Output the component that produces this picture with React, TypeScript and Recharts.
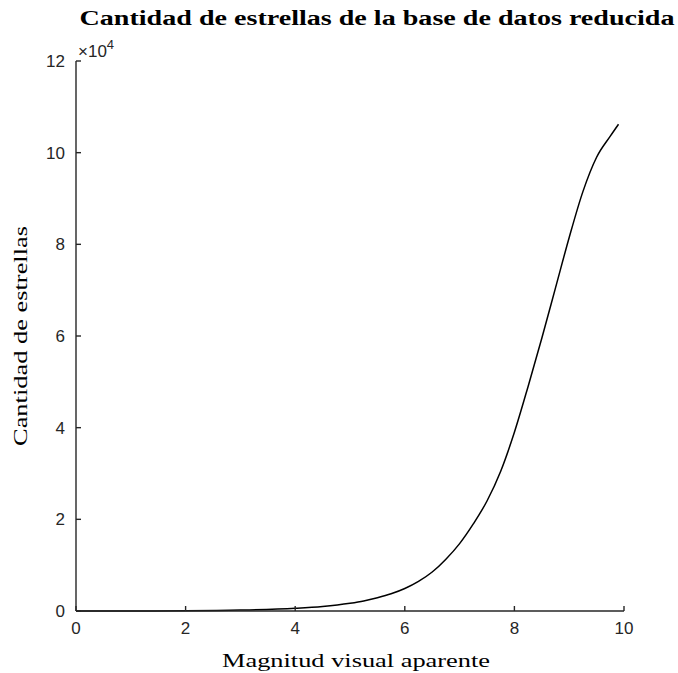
import { LineChart, Line, XAxis, YAxis } from 'recharts'

// Magnitud visual aparente vs. cantidad acumulada de estrellas
const magnitudes = [0, 1, 2, 3, 4, 4.5, 5, 5.25, 5.5, 5.75, 6, 6.25, 6.5, 6.75, 7, 7.25, 7.5, 7.75, 8, 8.25, 8.5, 8.75, 9, 9.25, 9.5, 9.75, 9.9]
const starCounts = [0, 10, 50, 200, 600, 1000, 1700, 2200, 2900, 3750, 4900, 6450, 8500, 11300, 14700, 19000, 24000, 30500, 39000, 49000, 59500, 70500, 81500, 91500, 99000, 103600, 106200]
const xTicks = [0, 2, 4, 6, 8, 10]
const yTicks = [0, 20000, 40000, 60000, 80000, 100000, 120000]

const data = magnitudes.map((m, i) => ({ mag: m, count: starCounts[i] }))

const W = 678
const H = 673
const axisColor = '#262626'
const tickFont = { fontFamily: 'Liberation Sans, Arial, sans-serif', fontSize: 17, fill: axisColor }

export default function App() {
  return (
    <div style={{ position: 'relative', width: W, height: H, background: '#fff' }}>
      <style>{`body{margin:0}`}</style>
      <LineChart
        width={W}
        height={H}
        data={data}
        margin={{ top: 61, right: 54, bottom: 61, left: 75 }}
      >
        <XAxis
          dataKey="mag"
          type="number"
          domain={[0, 10]}
          ticks={xTicks}
          height={1}
          tickSize={-5}
          tickMargin={16}
          stroke={axisColor}
          strokeWidth={1.4}
          tick={tickFont}
          allowDataOverflow
        />
        <YAxis
          type="number"
          domain={[0, 120000]}
          ticks={yTicks}
          width={1}
          tickSize={-5}
          tickMargin={16}
          stroke={axisColor}
          strokeWidth={1.4}
          tick={tickFont}
          tickFormatter={(v: number) => String(v / 10000)}
        />
        <Line
          type="monotone"
          dataKey="count"
          stroke="#000"
          strokeWidth={1.5}
          dot={false}
          isAnimationActive={false}
        />
      </LineChart>
      <svg
        width={W}
        height={H}
        style={{ position: 'absolute', left: 0, top: 0, pointerEvents: 'none' }}
      >
        <text
          x={377}
          y={25}
          textAnchor="middle"
          fontFamily="Liberation Serif, serif"
          fontWeight="bold"
          fontSize={20}
          fill="#000"
          textLength={595}
          lengthAdjust="spacingAndGlyphs"
        >
          Cantidad de estrellas de la base de datos reducida
        </text>
        <text x={78} y={57} fontFamily="Liberation Sans, Arial, sans-serif" fontSize={17} fill={axisColor}>
          ×10<tspan fontSize={13} dy={-8}>4</tspan>
        </text>
        <text
          x={356}
          y={667}
          textAnchor="middle"
          fontFamily="Liberation Serif, serif"
          fontSize={19}
          fill="#000"
          textLength={268}
          lengthAdjust="spacingAndGlyphs"
        >
          Magnitud visual aparente
        </text>
        <text
          transform="translate(27, 336) rotate(-90)"
          textAnchor="middle"
          fontFamily="Liberation Serif, serif"
          fontSize={19}
          fill="#000"
          textLength={220}
          lengthAdjust="spacingAndGlyphs"
        >
          Cantidad de estrellas
        </text>
      </svg>
    </div>
  )
}
